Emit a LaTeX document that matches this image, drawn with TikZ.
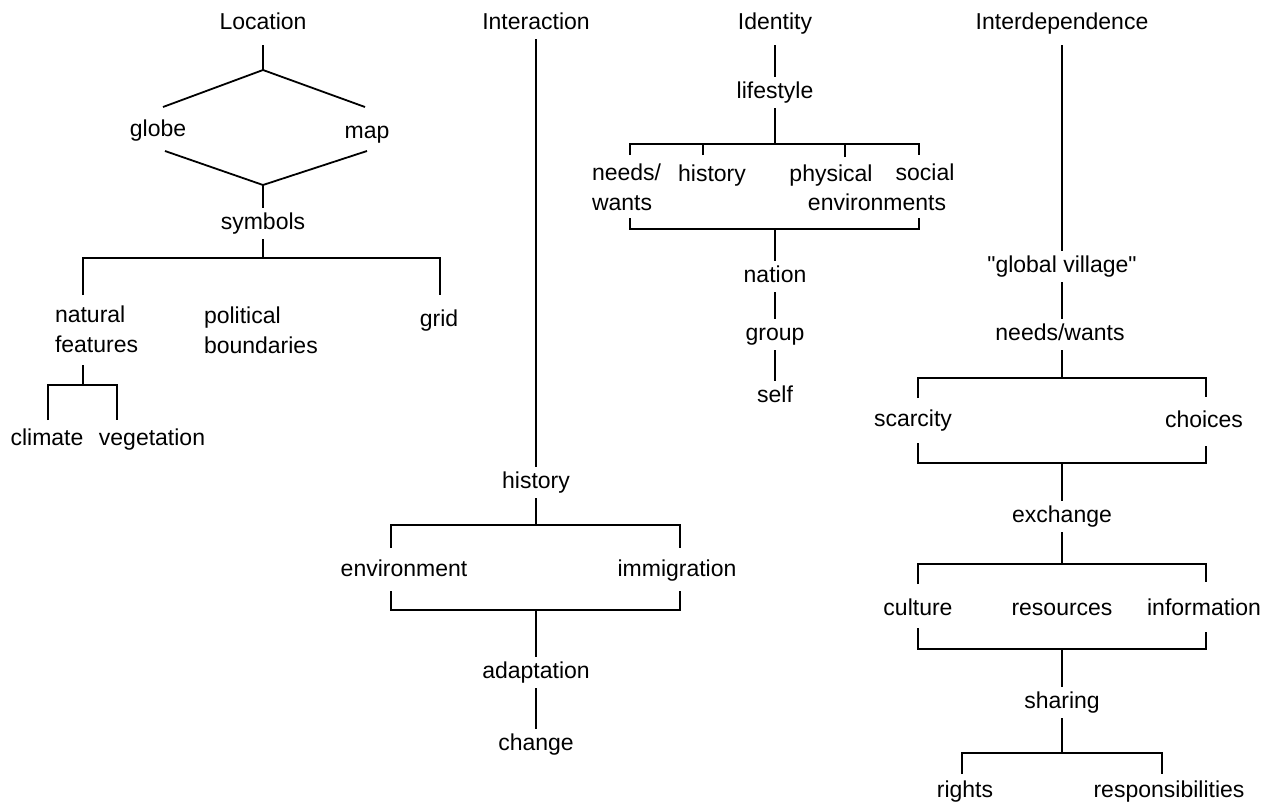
\documentclass[tikz,border=0pt]{standalone}
\usepackage{fontspec}
\setmainfont{Liberation Sans}
\newcommand{\lblfont}{\fontsize{23}{30}\selectfont}
\begin{document}
\begin{tikzpicture}[x=1pt,y=-1pt,
  lbl/.style={font=\lblfont, inner sep=0pt, outer xsep=0pt, outer ysep=4pt, text height=17pt, text depth=6pt, anchor=base},
  mlbl/.style={font=\lblfont, inner sep=0pt, outer xsep=0pt, outer ysep=4pt, anchor=west},
  ln/.style={line width=1.8pt},
  hd/.style={shorten <=6pt}]
\useasboundingbox[fill=white] (0,0) rectangle (1274,803);

% ---------- Location ----------
\node[lbl] (locT) at (263,29) {Location};
\node[lbl] (globe) at (158,136) {globe};
\node[lbl] (map) at (367,138) {map};
\node[lbl] (sym) at (263,229) {symbols};
\node[mlbl] (nat) at (55,331) {\begin{tabular}{@{}l@{}}natural\\features\end{tabular}};
\node[mlbl] (pol) at (204,332) {\begin{tabular}{@{}l@{}}political\\boundaries\end{tabular}};
\node[lbl] (grid) at (439,326) {grid};
\node[lbl] (clim) at (47,445) {climate};
\node[lbl] (veg) at (152,445) {vegetation};

\coordinate (jL1) at (263,70);
\coordinate (gL) at (163,107);
\coordinate (mL) at (365,107);
\coordinate (gL2) at (165,151);
\coordinate (mL2) at (367,151);
\coordinate (jL2) at (263,185);
\coordinate (jL3) at (263,258);
\coordinate (bNat) at (83,258);
\coordinate (bGrid) at (440,258);
\coordinate (tNat) at (83,295);
\coordinate (tGrid) at (440,295);
\coordinate (jN) at (83,385);
\coordinate (bCl) at (48,385);
\coordinate (bVe) at (117,385);
\coordinate (tCl) at (48,420);
\coordinate (tVe) at (117,420);

\draw[ln,hd] (locT) -- (jL1);
\draw[ln] (gL) -- (jL1) -- (mL);
\draw[ln] (gL2) -- (jL2) -- (mL2);
\draw[ln] (jL2) -- (sym);
\draw[ln] (sym) -- (jL3);
\draw[ln] (tNat) -- (bNat) -- (bGrid) -- (tGrid);
\draw[ln] (nat.south -| jN) -- (jN);
\draw[ln] (tCl) -- (bCl) -- (bVe) -- (tVe);

% ---------- Interaction ----------
\node[lbl] (interT) at (536,29) {Interaction};
\node[lbl] (hist1) at (536,488) {history};
\node[lbl] (env) at (404,576) {environment};
\node[lbl] (immi) at (677,576) {immigration};
\node[lbl] (adapt) at (536,678) {adaptation};
\node[lbl] (change) at (536,750) {change};

\coordinate (jH) at (536,525);
\coordinate (bEnv) at (391,525);
\coordinate (bImm) at (680,525);
\coordinate (tEnv) at (391,548);
\coordinate (tImm) at (680,548);
\coordinate (uEnv) at (391,591);
\coordinate (uImm) at (680,591);
\coordinate (cEnv) at (391,610);
\coordinate (cImm) at (680,610);
\coordinate (jH2) at (536,610);

\draw[ln] (interT) -- (hist1);
\draw[ln] (hist1) -- (jH);
\draw[ln] (tEnv) -- (bEnv) -- (bImm) -- (tImm);
\draw[ln] (uEnv) -- (cEnv) -- (cImm) -- (uImm);
\draw[ln] (jH2) -- (adapt);
\draw[ln] (adapt) -- (change);

% ---------- Identity ----------
\node[lbl] (idT) at (775,29) {Identity};
\node[lbl] (life) at (775,98) {lifestyle};
\node[mlbl] (nw) at (592,189) {\begin{tabular}{@{}l@{}}needs/\\wants\end{tabular}};
\node[lbl] (hist2) at (712,181) {history};
\node[lbl] (phys) at (831,181) {physical};
\node[lbl] (soc) at (925,180) {social};
\node[lbl] (envs) at (877,210) {environments};
\node[lbl] (nation) at (775,282) {nation};
\node[lbl] (group) at (775,340) {group};
\node[lbl] (self) at (775,402) {self};

\coordinate (jI1) at (775,144);
\coordinate (bI1) at (630,144);
\coordinate (bI2) at (919,144);
\coordinate (tI1) at (630,155);
\coordinate (tI2) at (703,155);
\coordinate (tI3) at (845,157);
\coordinate (tI4) at (919,155);
\coordinate (uI1) at (630,218);
\coordinate (uI2) at (919,218);
\coordinate (cI1) at (630,229);
\coordinate (cI2) at (919,229);
\coordinate (jI2) at (775,229);

\draw[ln,hd] (idT) -- (life);
\draw[ln] (life) -- (jI1);
\draw[ln] (tI1) -- (bI1) -- (bI2) -- (tI4);
\draw[ln] (tI2) -- (tI2 |- bI1);
\draw[ln] (tI3) -- (tI3 |- bI1);
\draw[ln] (uI1) -- (cI1) -- (cI2) -- (uI2);
\draw[ln] (jI2) -- (nation);
\draw[ln] (nation) -- (group);
\draw[ln] (group) -- (self);

% ---------- Interdependence ----------
\node[lbl] (indT) at (1062,29) {Interdependence};
\node[lbl] (glob) at (1062,272) {\textquotedbl global village\textquotedbl};
\node[lbl] (needsw) at (1060,340) {needs/wants};
\node[lbl] (scar) at (913,426) {scarcity};
\node[lbl] (choi) at (1204,427) {choices};
\node[lbl] (exch) at (1062,522) {exchange};
\node[lbl] (cult) at (918,615) {culture};
\node[lbl] (res) at (1062,615) {resources};
\node[lbl] (info) at (1204,615) {information};
\node[lbl] (shar) at (1062,708) {sharing};
\node[lbl] (rights) at (965,797) {rights};
\node[lbl] (resp) at (1169,797) {responsibilities};

\coordinate (jD1) at (1062,378);
\coordinate (bS) at (918,378);
\coordinate (bC) at (1206,378);
\coordinate (tS) at (918,398);
\coordinate (tC) at (1206,397);
\coordinate (uS) at (918,443);
\coordinate (uC) at (1206,446);
\coordinate (cS) at (918,463);
\coordinate (cC) at (1206,463);
\coordinate (jD2) at (1062,463);
\coordinate (jD3) at (1062,564);
\coordinate (bCu) at (918,564);
\coordinate (bIn) at (1206,564);
\coordinate (tCu) at (918,584);
\coordinate (tIn) at (1206,582);
\coordinate (uCu) at (918,628);
\coordinate (uIn) at (1206,632);
\coordinate (cCu) at (918,649);
\coordinate (cIn) at (1206,649);
\coordinate (jD4) at (1062,649);
\coordinate (jD5) at (1062,753);
\coordinate (bR) at (962,753);
\coordinate (bRe) at (1162,753);
\coordinate (tR) at (962,774);
\coordinate (tRe) at (1162,774);

\draw[ln,hd] (indT) -- (glob);
\draw[ln] (glob) -- (glob |- needsw.north);
\draw[ln] (needsw.south -| jD1) -- (jD1);
\draw[ln] (tS) -- (bS) -- (bC) -- (tC);
\draw[ln] (uS) -- (cS) -- (cC) -- (uC);
\draw[ln] (jD2) -- (exch);
\draw[ln] (exch) -- (jD3);
\draw[ln] (tCu) -- (bCu) -- (bIn) -- (tIn);
\draw[ln] (uCu) -- (cCu) -- (cIn) -- (uIn);
\draw[ln] (jD4) -- (shar);
\draw[ln] (shar) -- (jD5);
\draw[ln] (tR) -- (bR) -- (bRe) -- (tRe);
\end{tikzpicture}
\end{document}
